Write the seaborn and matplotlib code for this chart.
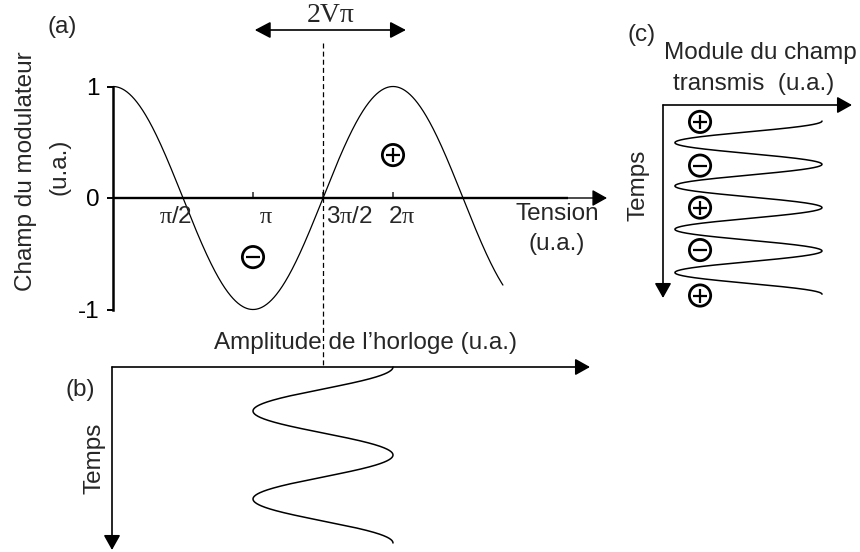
import numpy as np
import matplotlib
matplotlib.use("Agg")
import matplotlib.pyplot as plt
import seaborn as sns

# ---------------- data ----------------
# (a) field at modulator output vs applied voltage (phase in rad)
tension_end = 8.75                       # last voltage drawn on curve (rad)
y_ticks = [-1, 0, 1]
y_tick_labels = ["-1", "0", "1"]
x_ticks = [np.pi / 2, np.pi, 3 * np.pi / 2, 2 * np.pi]
x_tick_labels = [r"$\mathrm{\pi}$/2", r"$\mathrm{\pi}$", r"3$\mathrm{\pi}$/2", r"2$\mathrm{\pi}$"]
signs_a_x = [np.pi, 2 * np.pi]
signs_a_y = [-0.53, 0.385]
signs_a = ["-", "+"]
bias_point = 3 * np.pi / 2               # dashed line
swing = [np.pi + 0.04, 2 * np.pi + 0.29]  # 2Vπ arrow ends

# (b) clock amplitude vs time
clock_center = 3 * np.pi / 2
clock_amp = np.pi / 2
clock_periods = 2.0

# (c) transmitted field modulus vs time
module_min = 0.075
module_max = 1.0
peak_times = [0.37, 1.37, 2.37, 3.37, 4.37]
signs_c_t = [0.39, 1.40, 2.37, 3.35, 4.40]
signs_c_x = 0.233
signs_c = ["+", "-", "+", "-", "+"]

# ---------------- style ----------------
sns.set_style("white")
plt.rcParams["font.family"] = ["Liberation Sans", "DejaVu Sans"]
plt.rcParams["mathtext.fontset"] = "custom"
plt.rcParams["mathtext.rm"] = "Liberation Serif"
plt.rcParams["mathtext.it"] = "Liberation Serif:italic"
plt.rcParams["mathtext.bf"] = "Liberation Serif:bold"
FS = 17.5
W, H = 860, 552
fig = plt.figure(figsize=(W / 100, H / 100), dpi=100)
fig.patch.set_facecolor("white")


def box(x0, y0, x1, y1):
    return [x0 / W, 1 - y1 / H, (x1 - x0) / W, (y1 - y0) / H]


def ftext(x, y, s, **kw):
    kw.setdefault("fontsize", FS)
    kw.setdefault("ha", "center")
    kw.setdefault("va", "center")
    fig.text(x / W, 1 - y / H, s, **kw)


def rings(ax, xs, ys, kinds):
    ax.scatter(xs, ys, s=235, facecolors="none", edgecolors="black",
               linewidths=2.0, clip_on=False, zorder=5)
    for x, y, k in zip(xs, ys, kinds):
        sns.scatterplot(x=[x], y=[y], marker="+" if k == "+" else "_",
                        s=115, color="black", linewidth=1.6, ax=ax,
                        clip_on=False, zorder=6, legend=False)


AR = dict(color="black", shrinkA=0, shrinkB=0, mutation_scale=12)

# px per rad along voltage axis, origin at x=113 px
PXR = 280 / (2 * np.pi)
X0 = 113

# ================= panel (a) =================
ax_a = fig.add_axes(box(100, 60, 615, 330))
ax_a.set_facecolor("none")
ax_a.set_xlim((100 - X0) / PXR, (615 - X0) / PXR)
ax_a.set_ylim((198 - 330) / 111.5, (198 - 60) / 111.5)

tension = np.linspace(0, tension_end, 800)
champ = np.cos(tension)
sns.lineplot(x=tension, y=champ, sort=False, estimator=None, color="black",
             linewidth=0.9, ax=ax_a)

for s in ["top", "right", "bottom"]:
    ax_a.spines[s].set_visible(False)
ax_a.spines["left"].set_position(("data", 0))
ax_a.spines["left"].set_bounds(-1, 1)
ax_a.spines["left"].set_linewidth(1.8)
ax_a.spines["left"].set_color("black")
ax_a.spines["bottom"].set_position(("data", 0))
ax_a.set_yticks(y_ticks)
ax_a.set_yticklabels(y_tick_labels, fontsize=FS)
ax_a.tick_params(axis="y", direction="out", length=4.5, width=1.4, pad=5,
                 left=True, colors="black")
ax_a.set_xticks([])
ax_a.set_xticks(x_ticks[1:], minor=True)
ax_a.tick_params(axis="x", which="minor", direction="in", length=4.5,
                 width=1.1, bottom=True, labelbottom=False)
ax_a.set_xlabel("")
ax_a.set_ylabel("")

# zero axis: thick part + thin arrow end
v_thick_end = (568 - X0) / PXR
v_tip = (607 - X0) / PXR
ax_a.plot([0, v_thick_end], [0, 0], color="black", lw=1.7, solid_capstyle="butt")
ax_a.annotate("", xy=(v_tip, 0), xytext=(v_thick_end - 0.05, 0),
              arrowprops=dict(arrowstyle="-|>,head_length=0.75,head_width=0.42",
                              lw=1.0, **AR), annotation_clip=False)

# x tick labels (offsets as in the original drawing)
label_dx = [-7, 13, 26, 9]
for xv, lab, dx in zip(x_ticks, x_tick_labels, label_dx):
    ax_a.annotate(lab, xy=(xv, 0), xytext=(dx, -19), textcoords="offset pixels",
                  ha="center", va="center", fontsize=FS, annotation_clip=False)

# dashed bias line, crossing into panel (b)
ax_a.plot([bias_point, bias_point], [(198 - 43) / 111.5, (198 - 367) / 111.5],
          color="black", lw=0.9, ls=(0, (4, 2.5)), clip_on=False)

# 2Vπ double arrow
ya = (198 - 30) / 111.5
ax_a.annotate("", xy=(swing[1], ya), xytext=(swing[0], ya),
              arrowprops=dict(arrowstyle="<|-|>,head_length=0.8,head_width=0.42",
                              lw=1.2, **AR), annotation_clip=False)

rings(ax_a, signs_a_x, signs_a_y, signs_a)

# ================= panel (b) =================
ax_b = fig.add_axes(box(100, 355, 615, 560))
ax_b.set_facecolor("none")
ax_b.set_xlim((100 - X0) / PXR, (615 - X0) / PXR)
ax_b.set_ylim((560 - 367) / 88, (355 - 367) / 88)
ax_b.axis("off")
t_b = np.linspace(0, clock_periods, 600)
amp_b = clock_center + clock_amp * np.cos(2 * np.pi * t_b)
sns.lineplot(x=amp_b, y=t_b, sort=False, estimator=None, orient="y",
             color="black", linewidth=1.1, ax=ax_b)
xb0 = (112 - X0) / PXR
ax_b.annotate("", xy=((590 - X0) / PXR, 0), xytext=(xb0, 0),
              arrowprops=dict(arrowstyle="-|>,head_length=0.75,head_width=0.42",
                              lw=1.2, **AR), annotation_clip=False)
ax_b.annotate("", xy=(xb0, (550 - 367) / 88), xytext=(xb0, 0),
              arrowprops=dict(arrowstyle="-|>,head_length=0.75,head_width=0.42",
                              lw=1.2, **AR), annotation_clip=False)

# ================= panel (c) =================
PXM, PXT = 159, 43.3
ax_c = fig.add_axes(box(650, 95, 860, 305))
ax_c.set_facecolor("none")
ax_c.set_xlim((650 - 663) / PXM, (860 - 663) / PXM)
ax_c.set_ylim((305 - 105) / PXT, (95 - 105) / PXT)
ax_c.axis("off")
t_c = np.linspace(peak_times[0], peak_times[-1], 800)
module = module_min + (module_max - module_min) * (
    0.5 + 0.5 * np.cos(2 * np.pi * (t_c - peak_times[0])))
sns.lineplot(x=module, y=t_c, sort=False, estimator=None, orient="y",
             color="black", linewidth=1.1, ax=ax_c)
ax_c.annotate("", xy=((852 - 663) / PXM, 0), xytext=(0, 0),
              arrowprops=dict(arrowstyle="-|>,head_length=0.75,head_width=0.42",
                              lw=1.2, **AR), annotation_clip=False)
ax_c.annotate("", xy=(0, (298 - 105) / PXT), xytext=(0, 0),
              arrowprops=dict(arrowstyle="-|>,head_length=0.75,head_width=0.42",
                              lw=1.2, **AR), annotation_clip=False)
rings(ax_c, [signs_c_x] * len(signs_c_t), signs_c_t, signs_c)

# ================= texts =================
ftext(62, 27, "(a)")
ftext(26, 171, "Champ du modulateur", rotation=90)
ftext(60, 167, "(u.a.)", rotation=90)
ftext(331, 16, "2Vπ", fontsize=20, family=["Liberation Serif", "DejaVu Serif"])
ftext(557, 214, "Tension")
ftext(557, 244, "(u.a.)")
ftext(365, 343, "Amplitude de l’horloge (u.a.)")
ftext(80, 390, "(b)")
ftext(94, 458, "Temps", rotation=90)
ftext(642, 35, "(c)")
ftext(760, 53, "Module du champ")
ftext(754, 84, "transmis  (u.a.)")
ftext(639, 185, "Temps", rotation=90)

fig.savefig("out.png", dpi=100, facecolor="white")
